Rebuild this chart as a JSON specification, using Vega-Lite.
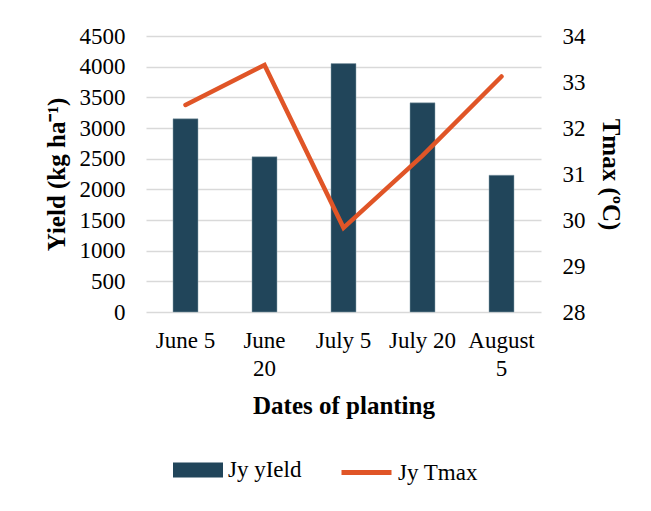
{
  "$schema": "https://vega.github.io/schema/vega-lite/v6.json",
  "width": 395,
  "height": 276,
  "autosize": {"type": "none"},
  "padding": {"left": 146, "top": 36, "right": 110, "bottom": 199},
  "background": "white",
  "config": {
    "font": "Liberation Serif",
    "view": {"stroke": null},
    "axis": {"labelFont": "Liberation Serif", "titleFont": "Liberation Serif", "labelColor": "#000000", "titleColor": "#000000", "labelFontSize": 23, "titleFontSize": 25, "titleFontWeight": "bold"},
    "legend": {"labelFont": "Liberation Serif", "labelFontSize": 23, "labelColor": "#000000"}
  },
  "data": {
    "values": [
      {"date": "June 5", "yield": 3150, "tmax": 32.5},
      {"date": "June 20", "yield": 2530, "tmax": 33.37},
      {"date": "July 5", "yield": 4050, "tmax": 29.83},
      {"date": "July 20", "yield": 3410, "tmax": 31.4},
      {"date": "August 5", "yield": 2230, "tmax": 33.12}
    ]
  },
  "encoding": {
    "x": {
      "field": "date", "type": "nominal", "sort": null,
      "scale": {"paddingInner": 0, "paddingOuter": 0},
      "axis": {
        "title": "Dates of planting", "labelAngle": 0, "ticks": false, "domain": false,
        "labelPadding": 17, "titlePadding": 13, "labelLineHeight": 28,
        "labelExpr": "datum.label == 'June 20' ? ['June', '20'] : datum.label == 'August 5' ? ['August', '5'] : datum.label"
      }
    }
  },
  "layer": [
    {
      "mark": {"type": "bar", "width": 25, "stroke": "#8aa0ad", "strokeWidth": 0.5},
      "encoding": {
        "y": {
          "field": "yield", "type": "quantitative",
          "scale": {"domain": [0, 4500], "nice": false},
          "axis": {
            "title": "Yield (kg ha⁻¹)", "format": "d", "values": [0, 500, 1000, 1500, 2000, 2500, 3000, 3500, 4000, 4500],
            "grid": true, "gridColor": "#d9d9d9", "gridWidth": 1.5, "domain": false, "ticks": false,
            "labelPadding": 21, "titlePadding": 10
          }
        },
        "fill": {
          "datum": "Jy yIeld", "type": "nominal",
          "scale": {"domain": ["Jy yIeld"], "range": ["#21455a"]},
          "legend": {
            "orient": "none", "legendX": 27, "legendY": 409, "direction": "horizontal", "title": null,
            "symbolType": "M-1,-0.3H1V0.3H-1Z", "symbolSize": 2500, "symbolStrokeWidth": 0, "labelOffset": 5
          }
        }
      }
    },
    {
      "mark": {"type": "line", "strokeWidth": 4.5, "strokeCap": "round", "strokeJoin": "miter"},
      "encoding": {
        "y": {
          "field": "tmax", "type": "quantitative",
          "scale": {"domain": [28, 34], "nice": false, "zero": false},
          "axis": {
            "title": "Tmax (ºC)", "orient": "right", "values": [28, 29, 30, 31, 32, 33, 34],
            "grid": false, "domain": false, "ticks": false, "labelPadding": 21, "titlePadding": 12
          }
        },
        "stroke": {
          "datum": "Jy Tmax", "type": "nominal",
          "scale": {"domain": ["Jy Tmax"], "range": ["#e05527"]},
          "legend": {
            "orient": "none", "legendX": 193, "legendY": 409, "direction": "horizontal", "title": null,
            "symbolType": "stroke", "symbolSize": 2500, "symbolStrokeWidth": 5, "labelOffset": 4
          }
        }
      }
    }
  ],
  "resolve": {"scale": {"y": "independent", "fill": "independent", "stroke": "independent"}}
}
